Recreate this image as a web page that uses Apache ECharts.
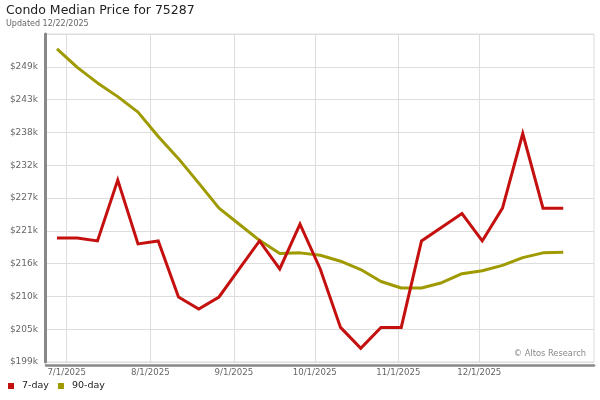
<!DOCTYPE html>
<html>
<head>
<meta charset="utf-8">
<script src="https://cdn.jsdelivr.net/npm/echarts@6/dist/echarts.min.js"></script>
<style>
  html, body { margin: 0; padding: 0; background: #fff; }
  #chart { width: 600px; height: 400px; }
</style>
</head>
<body>
<div id="chart"></div>
<script>
// ---- data ----
const weekDates = [
  '2025-06-27','2025-07-04','2025-07-11','2025-07-18','2025-07-25',
  '2025-08-01','2025-08-08','2025-08-15','2025-08-22','2025-08-29',
  '2025-09-05','2025-09-12','2025-09-19','2025-09-26','2025-10-03',
  '2025-10-10','2025-10-17','2025-10-24','2025-10-31','2025-11-07',
  '2025-11-14','2025-11-21','2025-11-28','2025-12-05','2025-12-12',
  '2025-12-19'
];
const sevenDay = [
  219800, 219800, 219300, 229500, 218800, 219300, 209900, 207900, 209900,
  214600, 219300, 214600, 222100, 214600, 204800, 201300, 204800, 204800,
  219300, 221600, 223900, 219300, 224800, 237300, 224800, 224800
];
const ninetyDay = [
  251500, 248400, 245800, 243500, 240900, 236800, 233100, 229000, 224800,
  222100, 219400, 217200, 217300, 216900, 215900, 214500, 212500, 211400,
  211400, 212300, 213800, 214300, 215200, 216500, 217300, 217400
];
const seriesNames = ['7-day', '90-day'];
const monthTicks = ['2025-07-01','2025-08-01','2025-09-01','2025-10-01','2025-11-01','2025-12-01'];
const yMin = 199000, yMax = 254000, yStep = 5500;

// ---- helpers ----
const DAY = 86400000;
function toTime(s) { const p = s.split('-').map(Number); return new Date(p[0], p[1] - 1, p[2]).getTime(); }
const pts7 = weekDates.map((d, i) => [toTime(d), sevenDay[i]]);
const pts90 = weekDates.map((d, i) => [toTime(d), ninetyDay[i]]);

// axis extents (layout)
const dataMin = toTime(weekDates[0]) - 3.8 * DAY;
const dataMax = dataMin + 189.43 * DAY;
const labMin = toTime(monthTicks[0]) - 7.676 * DAY;
const labMax = labMin + 190.6 * DAY;

const FONT = 'DejaVu Sans';
const RED = '#c4100f';
const OLIVE = '#9e9a00';

const chart = echarts.init(document.getElementById('chart'), null, { renderer: 'canvas' });
chart.setOption({
  animation: false,
  backgroundColor: '#fff',
  textStyle: { fontFamily: FONT },
  title: {
    text: 'Condo Median Price for 75287',
    subtext: 'Updated 12/22/2025',
    left: 6, top: 4, padding: 0, itemGap: 3,
    textStyle: { fontFamily: FONT, fontSize: 12.5, fontWeight: 'normal', color: '#222' },
    subtextStyle: { fontFamily: FONT, fontSize: 8, color: '#666' }
  },
  legend: {
    data: seriesNames.map(n => ({ name: n, icon: 'rect' })),
    left: 8, top: 381, padding: 0,
    itemWidth: 6, itemHeight: 6, itemGap: 9,
    textStyle: { fontFamily: FONT, fontSize: 9.5, color: '#222', padding: [0, 0, 0, 3] }
  },
  grid: [
    { left: 46, right: 6, top: 34, bottom: 38, show: true, borderColor: '#dddddd', borderWidth: 1 },
    { left: 46, right: 40, top: 34, bottom: 38, show: false }
  ],
  xAxis: [
    {
      type: 'time', gridIndex: 0, position: 'bottom', min: dataMin, max: dataMax,
      offset: 3,
      axisLine: { show: true, onZero: false, lineStyle: { color: '#888', width: 2.5 } },
      axisTick: { show: false },
      axisLabel: { show: false },
      splitLine: { show: false }
    },
    {
      type: 'time', gridIndex: 1, position: 'bottom', min: labMin, max: labMax,
      splitNumber: 6, minInterval: 28 * DAY, maxInterval: 31 * DAY,
      axisLine: { show: false },
      axisTick: { show: false },
      splitLine: { show: true, showMinLine: false, showMaxLine: false, lineStyle: { color: '#dddddd', width: 1 } },
      axisLabel: {
        fontFamily: FONT, fontSize: 8.6, color: '#666', margin: 6,
        hideOverlap: false, showMinLabel: false, showMaxLabel: false,
        formatter: function (v) { const d = new Date(v); return (d.getMonth() + 1) + '/' + d.getDate() + '/' + d.getFullYear(); }
      }
    }
  ],
  yAxis: [
    {
      type: 'value', gridIndex: 0, min: yMin, max: yMax, interval: yStep,
      offset: 1,
      axisLine: { show: true, lineStyle: { color: '#888', width: 3 } },
      axisTick: { show: false },
      splitLine: { show: true, lineStyle: { color: '#dddddd', width: 1 } },
      axisLabel: {
        fontFamily: FONT, fontSize: 9, color: '#666', margin: 7,
        showMaxLabel: false,
        formatter: function (v) { return '$' + Math.round(v / 1000) + 'k'; }
      }
    },
    {
      type: 'value', gridIndex: 1, min: yMin, max: yMax, show: false
    }
  ],
  graphic: [
    {
      type: 'text', right: 14, top: 350,
      style: { text: '\u00a9 Altos Research', font: '8.3px "DejaVu Sans"', fill: '#888' }
    }
  ],
  series: [
    {
      name: seriesNames[0], type: 'line', xAxisIndex: 0, yAxisIndex: 0, data: pts7,
      showSymbol: false, symbol: 'none', z: 3,
      lineStyle: { color: RED, width: 3, join: 'miter' }, itemStyle: { color: RED }
    },
    {
      name: seriesNames[1], type: 'line', xAxisIndex: 0, yAxisIndex: 0, data: pts90,
      showSymbol: false, symbol: 'none', z: 2,
      lineStyle: { color: OLIVE, width: 3 }, itemStyle: { color: OLIVE }
    }
  ]
});
</script>
</body>
</html>
